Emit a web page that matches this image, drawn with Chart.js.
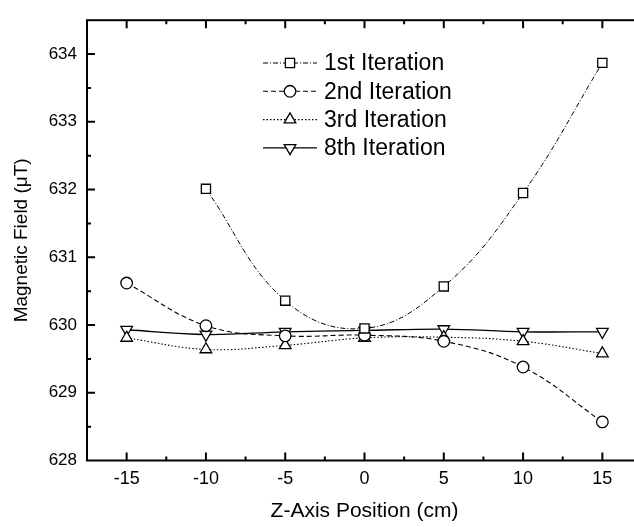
<!DOCTYPE html>
<html>
<head>
<meta charset="utf-8">
<script src="https://cdn.jsdelivr.net/npm/chart.js@4/dist/chart.umd.min.js"></script>
<style>
  html, body { margin: 0; padding: 0; background: #fff; overflow: hidden; width: 634px; height: 527px; }
  #wrap { width: 660px; height: 527px; }
</style>
</head>
<body>
<div id="wrap"><canvas id="field-chart" width="660" height="527"></canvas></div>
<script>
// Z-axis positions (cm)
const zPositions = [-15, -10, -5, 0, 5, 10, 15];

// Magnetic field (uT) per iteration
const iteration1 = [null, 632.01, 630.36, 629.95, 630.57, 631.95, 633.87];
const iteration2 = [630.62, 629.99, 629.84, 629.85, 629.76, 629.38, 628.57];
const iteration3 = [629.81, 629.64, 629.70, 629.81, 629.82, 629.76, 629.58];
const iteration8 = [629.93, 629.86, 629.90, 629.92, 629.94, 629.90, 629.90];

const seriesNames = ["1st Iteration", "2nd Iteration", "3rd Iteration", "8th Iteration"];
const fieldTicks = [628, 629, 630, 631, 632, 633, 634];

const fontFamily = "'Liberation Sans', Arial, sans-serif";

function toPoints(values) {
  return zPositions
    .map((z, i) => ({ x: z, y: values[i] }))
    .filter(p => p.y !== null);
}

// Inward ticks on all four sides plus the frame
const frameTicks = {
  id: "frameTicks",
  afterDatasetsDraw(chart) {
    const { ctx, chartArea: area, scales: { x, y } } = chart;
    ctx.save();
    ctx.strokeStyle = "#000";
    ctx.lineWidth = 2;
    ctx.strokeRect(area.left, area.top, area.right - area.left, area.bottom - area.top);

    ctx.beginPath();
    for (let v = x.min + 2.5; v < x.max; v += 2.5) {
      const px = x.getPixelForValue(v);
      const len = Math.abs(v % 5) < 0.01 ? 8 : 4;
      ctx.moveTo(px, area.bottom); ctx.lineTo(px, area.bottom - len);
      ctx.moveTo(px, area.top); ctx.lineTo(px, area.top + len);
    }
    for (let v = y.min + 0.5; v < y.max; v += 0.5) {
      const py = y.getPixelForValue(v);
      const len = Math.abs(v % 1) < 0.01 ? 8 : 4;
      ctx.moveTo(area.left, py); ctx.lineTo(area.left + len, py);
      ctx.moveTo(area.right, py); ctx.lineTo(area.right - len, py);
    }
    ctx.stroke();
    ctx.restore();
  }
};

// Legend drawn inside the plot area
const insideLegend = {
  id: "insideLegend",
  afterDraw(chart) {
    const { ctx } = chart;
    const lineStart = 263, lineEnd = 317, markX = 290, textX = 324;
    const firstRow = 63, rowGap = 28.3;
    ctx.save();
    chart.data.datasets.forEach((ds, i) => {
      const rowY = firstRow + i * rowGap;
      ctx.strokeStyle = "#000";
      ctx.lineWidth = ds.borderWidth;
      ctx.setLineDash(ds.borderDash || []);
      ctx.beginPath();
      ctx.moveTo(lineStart, rowY);
      ctx.lineTo(lineEnd, rowY);
      ctx.stroke();
      ctx.setLineDash([]);
      ctx.fillStyle = "#fff";
      ctx.lineWidth = ds.pointBorderWidth;
      Chart.helpers.drawPoint(ctx, {
        pointStyle: ds.pointStyle,
        radius: ds.pointRadius,
        rotation: ds.pointRotation || 0,
        borderWidth: ds.pointBorderWidth
      }, markX, rowY);
      ctx.fillStyle = "#000";
      ctx.font = "23px " + fontFamily;
      ctx.textBaseline = "middle";
      ctx.textAlign = "left";
      ctx.fillText(ds.label, textX, rowY + 1);
    });
    ctx.restore();
  }
};

const baseSeries = {
  borderColor: "#000",
  pointBorderColor: "#000",
  pointBackgroundColor: "#fff",
  pointBorderWidth: 1.3,
  fill: false,
  tension: 0.4
};

const chartArea = document.querySelector("#field-chart").getContext("2d");

new Chart(chartArea, {
  type: "line",
  data: {
    datasets: [
      Object.assign({}, baseSeries, {
        label: seriesNames[0],
        data: toPoints(iteration1),
        borderWidth: 1,
        borderDash: [5, 2, 1, 2],
        pointStyle: "rect",
        pointRadius: 6.5
      }),
      Object.assign({}, baseSeries, {
        label: seriesNames[1],
        data: toPoints(iteration2),
        borderWidth: 1.1,
        borderDash: [5, 3],
        pointStyle: "circle",
        pointRadius: 5.8
      }),
      Object.assign({}, baseSeries, {
        label: seriesNames[2],
        data: toPoints(iteration3),
        borderWidth: 1.1,
        borderDash: [1.5, 2],
        pointStyle: "triangle",
        pointRadius: 6.7
      }),
      Object.assign({}, baseSeries, {
        label: seriesNames[3],
        data: toPoints(iteration8),
        borderWidth: 1.3,
        pointStyle: "triangle",
        pointRotation: 180,
        pointRadius: 6.7
      })
    ]
  },
  options: {
    responsive: false,
    animation: false,
    events: [],
    layout: { padding: { top: 11, right: 18, left: 0, bottom: 0 } },
    plugins: {
      legend: { display: false },
      tooltip: { enabled: false }
    },
    scales: {
      x: {
        type: "linear",
        min: -17.5,
        max: 17.5,
        afterBuildTicks(scale) { scale.ticks = zPositions.map(v => ({ value: v })); },
        afterFit(scale) { scale.height = 66.5; },
        grid: { display: false, drawTicks: false },
        border: { display: false },
        ticks: {
          padding: 8,
          color: "#000",
          font: { family: fontFamily, size: 18 }
        },
        title: {
          display: true,
          text: "Z-Axis Position (cm)",
          color: "#000",
          padding: { top: 0, bottom: 3 },
          font: { family: fontFamily, size: 21 }
        }
      },
      y: {
        min: 628,
        max: 634.5,
        afterBuildTicks(scale) { scale.ticks = fieldTicks.map(v => ({ value: v })); },
        afterFit(scale) { scale.width = 87; },
        grid: { display: false, drawTicks: false },
        border: { display: false },
        ticks: {
          padding: 10,
          color: "#000",
          font: { family: fontFamily, size: 17 }
        },
        title: {
          display: true,
          text: "Magnetic Field (\u03bcT)",
          color: "#000",
          padding: { top: 10, bottom: 0 },
          font: { family: fontFamily, size: 19 }
        }
      }
    }
  },
  plugins: [frameTicks, insideLegend]
});
</script>
</body>
</html>
